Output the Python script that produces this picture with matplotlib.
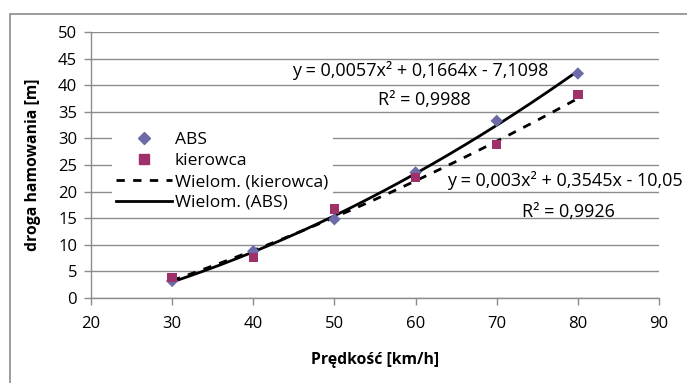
import numpy as np
import matplotlib
matplotlib.use("Agg")
import matplotlib.pyplot as plt
from matplotlib.patches import Rectangle
from matplotlib.lines import Line2D

plt.rcParams['font.family'] = ['Open Sans', 'DejaVu Sans']

speed = [30, 40, 50, 60, 70, 80]
abs_vals = [3.2, 8.8, 14.8, 23.6, 33.3, 42.2]
kier_vals = [3.9, 7.6, 16.7, 22.7, 28.8, 38.2]
abs_coef = [0.0057, 0.1664, -7.1098]
kier_coef = [0.003, 0.3545, -10.05]
abs_eq = "y = 0,0057x² + 0,1664x - 7,1098"
abs_r2 = "R² = 0,9988"
kier_eq = "y = 0,003x² + 0,3545x - 10,05"
kier_r2 = "R² = 0,9926"
xticks = [20, 30, 40, 50, 60, 70, 80, 90]
yticks = [0, 5, 10, 15, 20, 25, 30, 35, 40, 45, 50]

FS = 13.0

fig = plt.figure(figsize=(6.87, 3.83), dpi=100)
fig.patches.append(Rectangle((10/687, -0.1), 1.2, 1 - 14/383 + 0.1, transform=fig.transFigure,
                             fill=False, edgecolor='#8c8c8c', linewidth=1.2, zorder=0))
ax = fig.add_axes([91/687, 1 - 298/383, 568/687, 266/383])

ax.set_xlim(20, 90)
ax.set_ylim(0, 50)
ax.set_xticks(xticks)
ax.set_yticks(yticks)
ax.yaxis.grid(True, color='#8c8c8c', linewidth=1)
ax.set_axisbelow(True)
for s in ['top', 'right']:
    ax.spines[s].set_visible(False)
for s in ['left', 'bottom']:
    ax.spines[s].set_color('#8c8c8c')
    ax.spines[s].set_linewidth(1)
ax.tick_params(axis='both', colors='#8c8c8c', labelcolor='black', labelsize=12, length=5, width=1)
ax.tick_params(axis='x', pad=8)
ax.tick_params(axis='y', pad=5)

xs = np.linspace(30, 80, 200)
ax.plot(xs, np.polyval(kier_coef, xs), color='black', linestyle=(0, (3, 3)), linewidth=2, zorder=3)
ax.plot(xs, np.polyval(abs_coef, xs), color='black', linestyle='-', linewidth=2, zorder=3)
ax.scatter(speed, abs_vals, marker='D', s=40, color='#6B6BA8', zorder=6, edgecolors='none')
ax.scatter(speed, kier_vals, marker='s', s=45, color='#A0306A', zorder=6, edgecolors='none')

def ftext(px, py, s, ha):
    fig.text(px / 687, 1 - py / 383, s, fontsize=FS, va='center', ha=ha)

ftext(292, 71, abs_eq, 'left')
ftext(424, 100, abs_r2, 'center')
ftext(447, 180, kier_eq, 'left')
ftext(568, 212, kier_r2, 'center')

handles = [
    Line2D([], [], marker='D', color='#6B6BA8', linestyle='none', markersize=6),
    Line2D([], [], marker='s', color='#A0306A', linestyle='none', markersize=6.5),
    Line2D([], [], color='black', linestyle=(0, (3, 3)), linewidth=2),
    Line2D([], [], color='black', linestyle='-', linewidth=2),
]
labels = ['ABS', 'kierowca', 'Wielom. (kierowca)', 'Wielom. (ABS)']
leg = ax.legend(handles, labels, loc='upper left', bbox_to_anchor=(0.021, 0.672),
                frameon=True, facecolor='white', edgecolor='none', framealpha=1,
                fontsize=12.5, handlelength=3.2, handletextpad=0.2, labelspacing=0.27,
                borderpad=0.25, fancybox=False)
leg.set_zorder(5)

ax.set_ylabel('droga hamowania [m]', fontsize=11.3, fontweight='bold', labelpad=12)
ax.set_xlabel('Prędkość [km/h]', fontsize=11.3, fontweight='bold', labelpad=14)

fig.savefig('out.png', dpi=100)
